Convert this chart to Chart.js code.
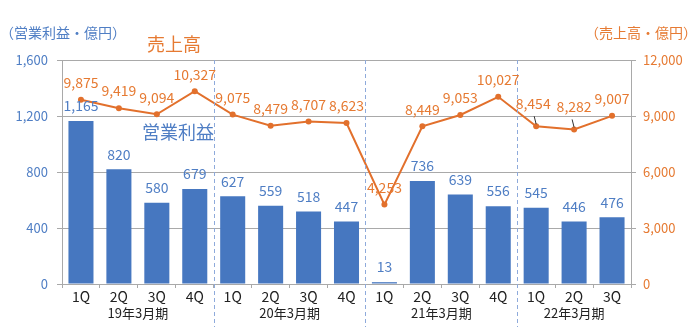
<!DOCTYPE html>
<html>
<head>
<meta charset="utf-8">
<script src="https://cdn.jsdelivr.net/npm/chart.js@4/dist/chart.umd.min.js"></script>
<style>
  body { margin: 0; background: #fff; }
  #wrap { width: 700px; height: 327px; position: relative; }
</style>
</head>
<body>
<div id="wrap"><canvas id="mainChart"></canvas></div>
<script>
// quarters and fiscal years
var quarters = ['1Q','2Q','3Q','4Q','1Q','2Q','3Q','4Q','1Q','2Q','3Q','4Q','1Q','2Q','3Q'];
var years = ['19年3月期', '20年3月期', '21年3月期', '22年3月期'];
var yearStart = [0, 4, 8, 12];
var yearEnd = [3, 7, 11, 14];

// 営業利益 (億円)
var profit = [1165, 820, 580, 679, 627, 559, 518, 447, 13, 736, 639, 556, 545, 446, 476];
// 売上高 (億円)
var sales = [9875, 9419, 9094, 10327, 9075, 8479, 8707, 8623, 4253, 8449, 9053, 10027, 8454, 8282, 9007];

var BLUE = '#4677c0';
var BLUE_TEXT = '#4f7ec4';
var ORANGE = '#e2702c';
var ORANGE_TEXT = '#e67a32';
var GRID = '#a9a9a9';
var FONT = "'Noto Sans CJK JP', 'Noto Sans', sans-serif";

function comma(v){
    return String(v).replace(/\B(?=(\d{3})+(?!\d))/g, ',');
}

// value labels, year captions, separators and titles
var decorPlugin = {
    id: 'decor',
    afterDatasetsDraw: function(chart){
        var ctx = chart.ctx;
        var area = chart.chartArea;
        var x = chart.scales.x;

        // dashed separators between fiscal years
        ctx.save();
        ctx.strokeStyle = '#8eaadb';
        ctx.lineWidth = 1;
        ctx.setLineDash([4, 3]);
        for (var i = 1; i < years.length; i++){
            var sx = Math.round((x.getPixelForValue(yearStart[i] - 1) + x.getPixelForValue(yearStart[i])) / 2) + 0.5;
            ctx.beginPath();
            ctx.moveTo(sx, area.top);
            ctx.lineTo(sx, 328);
            ctx.stroke();
        }
        ctx.restore();

        ctx.save();
        ctx.textAlign = 'center';
        ctx.textBaseline = 'middle';

        // bar labels
        ctx.font = '14px ' + FONT;
        ctx.fillStyle = BLUE_TEXT;
        var bars = chart.getDatasetMeta(1).data;
        for (var b = 0; b < bars.length; b++){
            ctx.fillText(comma(profit[b]), bars[b].x, bars[b].y - 15);
        }

        // line labels, the last year's first two lifted with leader lines
        ctx.fillStyle = ORANGE_TEXT;
        var pts = chart.getDatasetMeta(0).data;
        for (var p = 0; p < pts.length; p++){
            var dy = 17;
            if (p == 12 || p == 13){
                dy = 23;
                ctx.save();
                ctx.strokeStyle = '#333';
                ctx.lineWidth = 1;
                ctx.beginPath();
                ctx.moveTo(pts[p].x - 2, pts[p].y - 10);
                ctx.lineTo(pts[p].x, pts[p].y - 2);
                ctx.stroke();
                ctx.restore();
            }
            ctx.fillText(comma(sales[p]), pts[p].x - (p == 12 ? 3 : 0), pts[p].y - dy);
        }

        // fiscal year captions
        ctx.font = '13px ' + FONT;
        ctx.fillStyle = '#222';
        for (var k = 0; k < years.length; k++){
            var cx = (x.getPixelForValue(yearStart[k]) + x.getPixelForValue(yearEnd[k])) / 2;
            ctx.fillText(years[k], cx, 313);
        }

        // axis units and series names
        ctx.font = '14px ' + FONT;
        ctx.textAlign = 'left';
        ctx.fillStyle = BLUE_TEXT;
        ctx.fillText('（営業利益・億円）', 0, 33);
        ctx.textAlign = 'right';
        ctx.fillStyle = ORANGE_TEXT;
        ctx.fillText('（売上高・億円）', 697, 33);

        ctx.textAlign = 'center';
        ctx.font = '18px ' + FONT;
        ctx.fillStyle = ORANGE_TEXT;
        ctx.fillText('売上高', 174, 44);
        ctx.fillStyle = BLUE_TEXT;
        ctx.fillText('営業利益', 178, 132);
        ctx.restore();
    }
};

var ctx = document.getElementById('mainChart').getContext('2d');
var mainChart = new Chart(ctx, {
    type: 'bar',
    data: {
        labels: quarters,
        datasets: [
        {
            type: 'line',
            label: '売上高',
            data: sales,
            yAxisID: 'y1',
            borderColor: ORANGE,
            backgroundColor: ORANGE,
            borderWidth: 2,
            pointRadius: 3,
            pointBackgroundColor: ORANGE,
            pointBorderWidth: 0,
            tension: 0,
            order: 0
        },
        {
            type: 'bar',
            label: '営業利益',
            data: profit,
            yAxisID: 'y',
            backgroundColor: BLUE,
            categoryPercentage: 1,
            barPercentage: 0.66,
            order: 1
        }]
    },
    plugins: [decorPlugin],
    options: {
        responsive: true,
        maintainAspectRatio: false,
        animation: false,
        layout: { padding: { top: 60, left: 0, right: 0, bottom: 0 } },
        plugins: {
            legend: { display: false },
            tooltip: { enabled: false }
        },
        scales: {
            x: {
                grid: { drawOnChartArea: false, drawTicks: true, tickLength: 4, color: GRID },
                border: { color: GRID },
                ticks: { color: '#222', font: { size: 14, family: FONT }, padding: 0, maxRotation: 0 },
                afterFit: function(s){ s.height = 43; }
            },
            y: {
                position: 'left',
                min: 0,
                max: 1600,
                grid: { color: GRID, tickLength: 5 },
                border: { color: GRID },
                ticks: {
                    stepSize: 400,
                    color: BLUE_TEXT,
                    font: { size: 13, family: FONT },
                    padding: 9,
                    callback: function(v){ return comma(v); }
                },
                afterFit: function(s){ s.width = 62; }
            },
            y1: {
                position: 'right',
                min: 0,
                max: 12000,
                grid: { drawOnChartArea: false, color: GRID, tickLength: 5 },
                border: { color: GRID },
                ticks: {
                    stepSize: 3000,
                    color: ORANGE_TEXT,
                    font: { size: 13, family: FONT },
                    padding: 7,
                    callback: function(v){ return comma(v); }
                },
                afterFit: function(s){ s.width = 69; }
            }
        }
    }
});
</script>
</body>
</html>
